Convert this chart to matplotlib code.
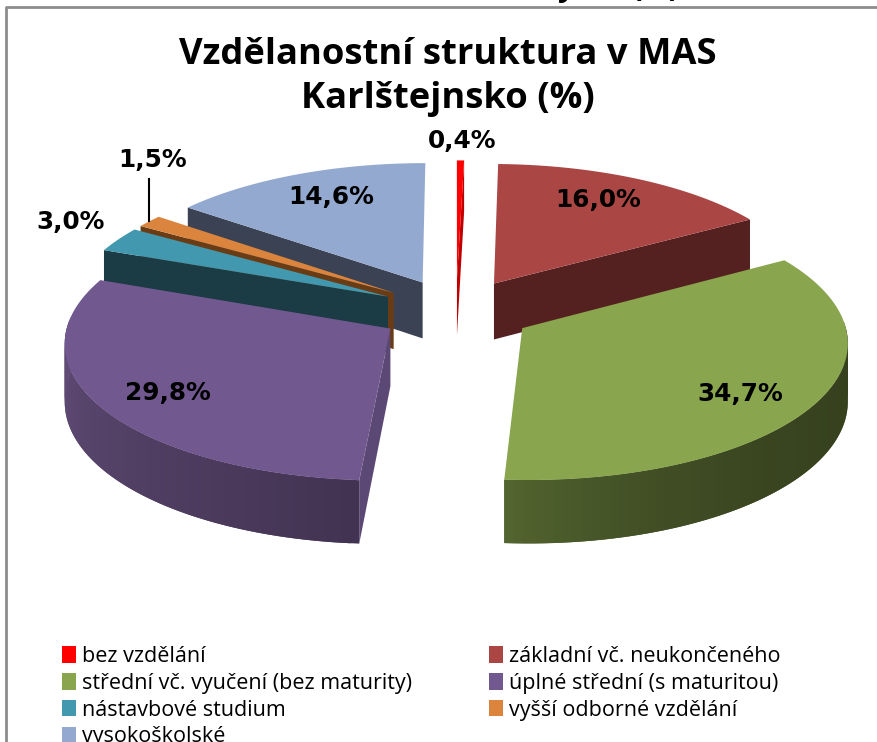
import numpy as np
import matplotlib
matplotlib.use('Agg')
import matplotlib.pyplot as plt
from matplotlib.patches import Patch
from matplotlib.colors import to_rgb

# Data
categories = ['bez vzdělání', 'základní vč. neukončeného', 'střední vč. vyučení (bez maturity)',
              'úplné střední (s maturitou)', 'nástavbové studium', 'vyšší odborné vzdělání', 'vysokoškolské']
values = [0.4, 16.0, 34.7, 29.8, 3.0, 1.5, 14.6]
labels = ['0,4%', '16,0%', '34,7%', '29,8%', '3,0%', '1,5%', '14,6%']

# Styles
colors = ['#fe0000', '#aa4644', '#89a54e', '#71588f', '#4198af', '#db843d', '#93a9cf']
edge_colors = ['#c00000', '#552020', '#3d4c24', '#5c4875', '#1b3b45', '#6a3c16', '#3b4253']
wall_start = ['#900000', '#552020', '#36401e', '#433352', '#1b3b45', '#6a3c16', '#3b4253']
wall_end = ['#900000', '#552020', '#52642f', '#68527f', '#1b3b45', '#6a3c16', '#3b4253']
wall_power = [1, 1, 4, 1, 1, 1, 1]
draw_order = [6, 0, 1, 5, 4, 3, 2]
label_x = [462, 598, 740, 168, 71, 153, 331]
label_y = [141, 200, 394, 393, 222, 160, 197]

# Pie geometry in pixels
cx, cy = 456, 311
rx, ry = 320, 135
persp = 0.09
explode = 0.24
depth = 57


def project(u, v, z=0.0):
    s = 1 / (1 + persp * v)
    return cx + rx * u * s, cy - ry * v * s + depth * z * s


def polar(theta, r=1.0):
    return r * np.sin(theta), r * np.cos(theta)


fractions = np.array(values) / np.sum(values) * 2 * np.pi
ends = np.cumsum(fractions)
starts = ends - fractions
mids = (starts + ends) / 2

fig = plt.figure(figsize=(8.77, 7.42), dpi=100)
ax = fig.add_axes([0, 0, 1, 1])
ax.set_xlim(0, 877)
ax.set_ylim(742, 0)
ax.axis('off')

# Frame of the chart
ax.plot([6, 6, 877], [742, 7, 7], color='#8c8c8c', lw=2)

# Cut off heading of the page above
ax.text(566, -4, 'y', ha='center', va='baseline', fontsize=22, family='Open Sans', fontweight='bold')
ax.text(656, -4, '(%)', ha='center', va='baseline', fontsize=22, family='Open Sans', fontweight='bold')

for i in draw_order:
    z = draw_order.index(i) * 3
    ou, ov = polar(mids[i], explode)
    a, b = starts[i], ends[i]
    th = np.linspace(a, b, 80)
    uu = ou + np.sin(th)
    vv = ov + np.cos(th)

    # radial faces
    for edge in (a, b):
        eu, ev = ou + np.sin(edge), ov + np.cos(edge)
        # the face is visible only when its outward normal points to the viewer
        normal_v = np.sin(edge) if edge == a else -np.sin(edge)
        if normal_v < 0:
            xs, ys = zip(project(ou, ov), project(eu, ev), project(eu, ev, 1), project(ou, ov, 1))
            ax.fill(xs, ys, color=edge_colors[i], lw=0, zorder=2 + z)

    # outer wall, front half only, shaded along the arc
    start_rgb, end_rgb = np.array(to_rgb(wall_start[i])), np.array(to_rgb(wall_end[i]))
    for k in range(len(th) - 1):
        if np.cos(th[k]) > 0.05:
            continue
        k2 = min(k + 2, len(th) - 1)  # overlap the next quad so no seams show
        x0, y0 = project(uu[k], vv[k])
        x1, y1 = project(uu[k2], vv[k2])
        x2, y2 = project(uu[k2], vv[k2], 1)
        x3, y3 = project(uu[k], vv[k], 1)
        t = (k / (len(th) - 2)) ** wall_power[i]
        col = start_rgb + (end_rgb - start_rgb) * t
        ax.fill([x0, x1, x2, x3], [y0, y1, y2, y3], color=col, lw=0, zorder=3 + z)

    # top face
    xs, ys = project(np.r_[ou, uu], np.r_[ov, vv])
    ax.fill(xs, ys, color=colors[i], lw=0, zorder=4 + z)

# Data labels
for x, y, lab in zip(label_x, label_y, labels):
    ax.text(x, y, lab, ha='center', va='center', fontsize=17.8, family='DejaVu Sans',
            fontweight='bold', color='black', zorder=40)

# Leader line of the 1,5% label
ou, ov = polar(mids[5], explode)
lx, ly = project(ou + np.sin(mids[5]), ov + np.cos(mids[5]))
ax.plot([lx, lx], [ly - 42, ly], color='black', lw=1.5, zorder=41)

# Title
ax.text(448, 77, 'Vzdělanostní struktura v MAS\nKarlštejnsko (%)', ha='center', va='center',
        fontsize=26.2, family='Open Sans', fontweight='bold', linespacing=1.27)

# Legend
handles = [Patch(facecolor=c, label=t) for c, t in zip(colors, categories)]
order = [0, 2, 4, 6, 1, 3, 5]
ax.legend([handles[j] for j in order], [categories[j] for j in order], ncol=2,
          loc='upper left', bbox_to_anchor=(62 / 877, 1 - 646 / 742), frameon=False,
          prop={'family': 'Open Sans', 'size': 15.5}, handlelength=0.65, handleheight=0.8,
          handletextpad=0.26, columnspacing=3.6, labelspacing=0.27, borderpad=0, borderaxespad=0)

fig.savefig('out.png', dpi=100)
